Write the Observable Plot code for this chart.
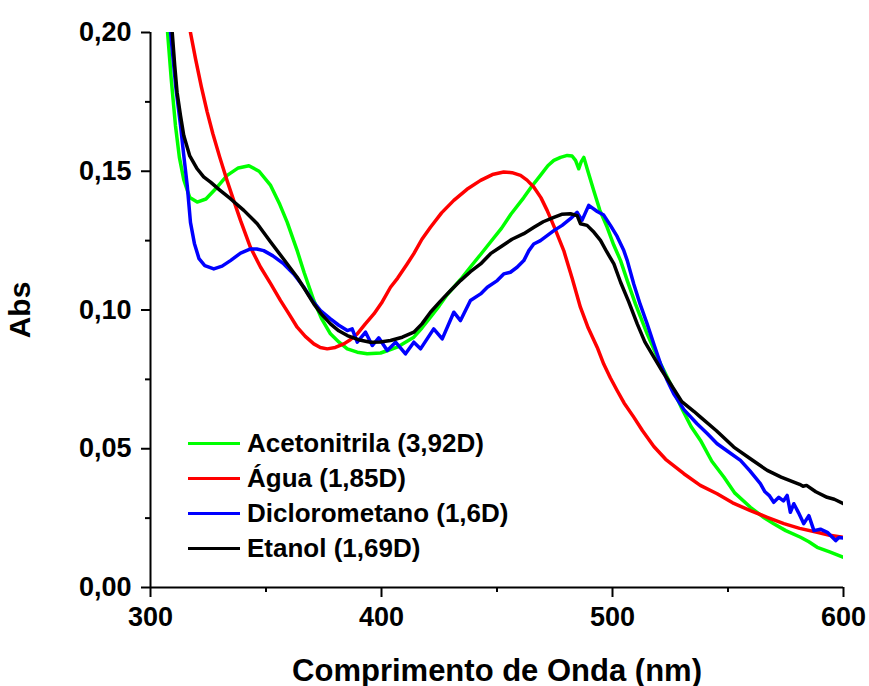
<!DOCTYPE html>
<html><head><meta charset="utf-8">
<script src="https://cdn.jsdelivr.net/npm/d3@7"></script>
<script src="https://cdn.jsdelivr.net/npm/@observablehq/plot@0.6"></script>
<style>
body{margin:0;background:#fff}
#wrap{position:relative;width:869px;height:686px;font-family:"Liberation Sans",Arial,sans-serif;font-weight:bold;color:#000}
#legend{position:absolute;left:188px;top:426px}
.row{display:flex;align-items:center;height:35px}
.sw{width:52px;height:3.5px;margin-right:7px}
.lab{font-size:26px;line-height:35px;white-space:nowrap}
g[aria-label="x-axis label"] text{font-size:31px}
g[aria-label="y-axis label"] text{font-size:30px}
</style></head>
<body><div id="wrap"></div>
<script>
const series = ["Acetonitrila (3,92D)", "Água (1,85D)", "Diclorometano (1,6D)", "Etanol (1,69D)"];
const colors = ["#00ff00", "#ff0000", "#0000ff", "#000000"];

const acetonitrilaNm = [307.4,309,310.8,312.5,314.4,317,320.2,324,328,333.2,338,342.6,347,352,356,359.2,363.5,366.5,370.7,374,377.9,381.5,385.2,389.5,393.8,399.6,403,406.8,410,414,417.5,421.2,425,428.4,434.2,438.5,442.9,447.2,452,456,461.6,465,468.8,472,474.6,477.5,480.4,482.5,484,485.4,486.5,487.6,489,491.9,494.5,497.7,500.5,503.5,506.4,510,515,520,525.1,530,534,538.1,543,548.2,553,559.7,565,569.8,575,581.4,585,588.6,594,600];
const acetonitrilaAbs = [0.200,0.183,0.1665,0.155,0.147,0.1405,0.1389,0.140,0.1435,0.1485,0.1512,0.152,0.150,0.1449,0.138,0.1316,0.1214,0.1135,0.1034,0.097,0.0914,0.0885,0.086,0.0848,0.0842,0.0845,0.0855,0.0866,0.0882,0.0902,0.0935,0.0974,0.1015,0.1055,0.111,0.1155,0.120,0.1245,0.1295,0.1345,0.1405,0.1445,0.1485,0.152,0.1539,0.155,0.1557,0.1555,0.1539,0.1509,0.1535,0.155,0.151,0.143,0.136,0.1298,0.1235,0.1178,0.1106,0.102,0.0914,0.082,0.0734,0.0645,0.058,0.053,0.0455,0.0398,0.034,0.0289,0.0255,0.023,0.0205,0.0181,0.0165,0.0145,0.0128,0.0109];

const aguaNm = [317.3,319.5,322,324.5,327,330,333.2,336,339,343.3,347.6,352,356.3,360,363.5,367,370.7,373.5,376.5,380,383.7,386.5,389.5,393,396.7,400,403.9,407,411.1,414,417.5,421.2,426,431.3,437,442.9,448,452.9,456.5,460.2,463,465.9,469,471.7,475,478.9,482.5,486.1,489.5,493.4,496.2,499.1,502,505,509.2,513,517.9,523,530.9,538,545.3,552,559.7,567,574.2,581,588.6,594,600];
const aguaAbs = [0.200,0.1905,0.1805,0.1715,0.1635,0.155,0.1465,0.1395,0.1322,0.1225,0.1155,0.1095,0.1034,0.0985,0.0938,0.0905,0.0878,0.0865,0.086,0.0865,0.0878,0.0893,0.0914,0.095,0.0986,0.1025,0.1082,0.1115,0.1166,0.1203,0.1255,0.1298,0.135,0.1395,0.1435,0.1467,0.1488,0.1497,0.1495,0.1485,0.1468,0.1443,0.1405,0.1359,0.1295,0.1214,0.1115,0.101,0.0935,0.0865,0.0805,0.0755,0.071,0.0665,0.0614,0.0565,0.0508,0.0462,0.041,0.0368,0.0338,0.0305,0.0277,0.0253,0.023,0.0213,0.0199,0.0188,0.0181];

const dicloroNm = [308.7,311,313,314.5,315.9,317.3,319,321,323.5,327.4,331,334.6,339,343.3,346,349,353,357.7,362,366.4,370,373.6,377.9,381.5,385.2,387.3,389.5,393.1,396,398.8,402.5,406.1,410.4,414,416.9,422.6,426.3,431.3,434.2,438.5,442.9,445.8,450.1,452.9,455.8,458.7,461.6,463.8,465.9,468.8,474.6,478.2,481.8,484.7,486.8,489.7,493.4,496.2,499.1,502,504.9,506.4,509.2,512,515,518,520.8,523.5,526.5,531,536.6,541,545.3,550,555.4,559.5,564,566,568,569.8,572,574,575.6,577,578.5,580.5,582.8,585,587.2,590,593,596.6,598,600];
const dicloroAbs = [0.200,0.18,0.1665,0.155,0.1449,0.1316,0.124,0.1185,0.116,0.1148,0.1158,0.1178,0.1205,0.122,0.122,0.1214,0.1195,0.1166,0.113,0.1082,0.1035,0.0998,0.0968,0.0945,0.0926,0.0932,0.0884,0.092,0.0872,0.09,0.0854,0.0884,0.0842,0.0884,0.086,0.0932,0.0896,0.0992,0.0962,0.1034,0.1058,0.1082,0.1106,0.113,0.1136,0.1154,0.1178,0.1214,0.1238,0.125,0.1286,0.1305,0.1329,0.1352,0.1323,0.1377,0.1355,0.1342,0.1305,0.1265,0.1214,0.1178,0.1094,0.102,0.095,0.0875,0.0806,0.075,0.0698,0.064,0.059,0.0555,0.0518,0.049,0.0458,0.042,0.0374,0.0345,0.033,0.0307,0.0325,0.0312,0.0332,0.0271,0.0302,0.027,0.023,0.0259,0.0205,0.021,0.0199,0.0169,0.018,0.0178];

const etanolNm = [309.4,310.5,311.5,313,314.4,317,320.2,323,326,330,334.6,340.4,346.2,352,357,363.5,366.4,370.7,374,377.9,381.5,385.2,390,395.2,399.5,403.9,409,414,417.5,421.2,425.5,429.9,434.2,438.5,442.9,447.2,452,456.5,461.6,466,470,474.6,478,481.8,484.7,486.1,489,492,494.8,497.5,500.6,503.5,507,510.7,514,517.9,521.5,525.1,530,535.2,538.1,545,552.5,560,567,573,578.5,581,582.5,584,588,592.9,596,600];
const etanolAbs = [0.200,0.188,0.1785,0.17,0.1629,0.1555,0.1509,0.148,0.1461,0.1432,0.1401,0.1359,0.1311,0.1245,0.119,0.1118,0.108,0.1022,0.0985,0.095,0.0925,0.0908,0.0893,0.0884,0.0885,0.089,0.0902,0.092,0.095,0.0992,0.1032,0.107,0.1106,0.1138,0.1166,0.1203,0.123,0.1255,0.1275,0.1298,0.1318,0.1334,0.1345,0.1347,0.134,0.1311,0.1305,0.128,0.1251,0.121,0.1166,0.110,0.103,0.095,0.0885,0.083,0.078,0.0734,0.067,0.0635,0.0614,0.0565,0.0506,0.0462,0.0422,0.0398,0.038,0.0372,0.0365,0.0368,0.0345,0.0325,0.0318,0.0302];

const xTicks = [300, 400, 500, 600];
const xMinorTicks = [350, 450, 550];
const yTicks = [0, 0.05, 0.10, 0.15, 0.20];
const yMinorTicks = [0.025, 0.075, 0.125, 0.175];
const xLabel = "Comprimento de Onda (nm)";
const yLabel = "Abs";

const nmArrays = [acetonitrilaNm, aguaNm, dicloroNm, etanolNm];
const absArrays = [acetonitrilaAbs, aguaAbs, dicloroAbs, etanolAbs];
const rows = [];
series.forEach((s, i) => nmArrays[i].forEach((nm, j) => rows.push({series: s, nm, abs: absArrays[i][j]})));

const fmtY = d => d3.format(".2f")(d).replace(".", ",");

const chart = Plot.plot({
  width: 869, height: 686,
  marginLeft: 150, marginRight: 26, marginTop: 32, marginBottom: 99,
  x: {domain: [300, 600]},
  y: {domain: [0, 0.2]},
  color: {domain: series, range: colors},
  style: {fontFamily: '"Liberation Sans", Arial, sans-serif', fontWeight: "bold", fontSize: "27px", color: "#000", background: "#fff", overflow: "visible"},
  marks: [
    Plot.axisX(xTicks, {tickSize: 10, tickPadding: 9, strokeWidth: 2, tickFormat: d => String(d), label: xLabel, labelAnchor: "center", labelArrow: "none", labelOffset: 93}),
    Plot.axisX(xMinorTicks, {tickSize: 5, strokeWidth: 2, tickFormat: () => "", label: null}),
    Plot.axisY(yTicks, {tickSize: 9, tickPadding: 10, strokeWidth: 2, tickFormat: fmtY, label: yLabel, labelAnchor: "center", labelArrow: "none", labelOffset: 142}),
    Plot.axisY(yMinorTicks, {tickSize: 5, strokeWidth: 2, tickFormat: () => "", label: null}),
    Plot.ruleX([300], {strokeWidth: 2}),
    Plot.ruleY([0], {strokeWidth: 2}),
    Plot.line(rows, {x: "nm", y: "abs", z: "series", stroke: "series", strokeWidth: 3.5, clip: true})
  ]
});

const wrap = document.getElementById("wrap");
wrap.appendChild(chart);
const legend = document.createElement("div");
legend.id = "legend";
series.forEach((s, i) => {
  const row = document.createElement("div");
  row.className = "row";
  const sw = document.createElement("div");
  sw.className = "sw";
  sw.style.background = colors[i];
  const lab = document.createElement("span");
  lab.className = "lab";
  lab.textContent = s;
  row.appendChild(sw); row.appendChild(lab);
  legend.appendChild(row);
});
wrap.appendChild(legend);
</script>
</body></html>
